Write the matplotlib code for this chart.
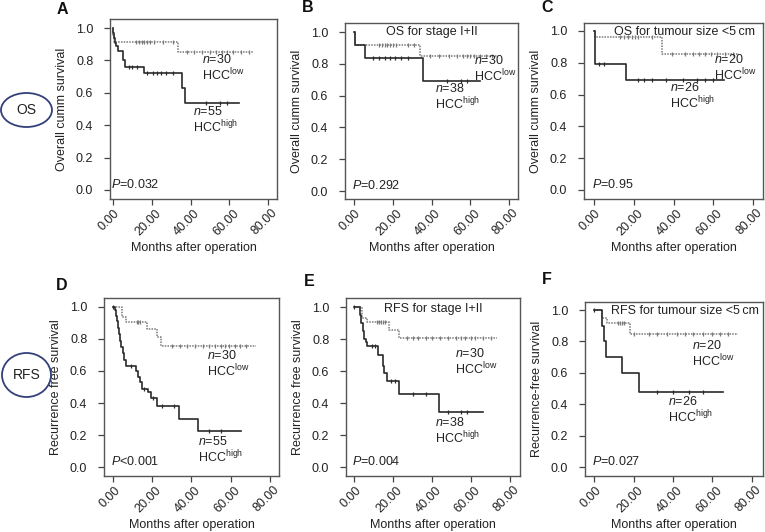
import matplotlib
matplotlib.use("Agg")
import matplotlib.pyplot as plt
import matplotlib.transforms as mtransforms
import numpy as np
from matplotlib.patches import Ellipse

plt.rcParams["font.family"] = ["Liberation Sans", "DejaVu Sans"]
plt.rcParams["mathtext.fontset"] = "custom"
plt.rcParams["mathtext.rm"] = "Liberation Sans"
plt.rcParams["mathtext.it"] = "Liberation Sans:italic"

# ---- data (months, survival fraction) ----
a_low_t = [0, 0.3, 0.7, 33.5, 72.7]
a_low_s = [1.0, 0.96, 0.915, 0.854, 0.854]
a_low_cens = [12, 13.5, 15, 16, 17.5, 19, 21, 26, 31, 38, 42, 46, 50, 53, 56, 59, 62, 66, 70]
a_high_t = [0, 0.2, 0.5, 0.9, 1.8, 2.8, 5.3, 6.0, 16.0, 35.6, 37.3, 65]
a_high_s = [1.0, 0.97, 0.94, 0.91, 0.89, 0.86, 0.80, 0.76, 0.72, 0.63, 0.54, 0.54]
a_high_cens = [8.5, 10, 12.5, 17.5, 20.5, 22.5, 25, 27.5, 31, 48, 55, 58.5]

b_low_t = [0, 0.3, 0.8, 33.8, 73.5]
b_low_s = [1.0, 0.96, 0.917, 0.849, 0.849]
b_low_cens = [13, 14.5, 16, 17, 18.5, 20, 21.5, 28, 31, 39, 44, 49, 53, 56, 58, 60, 62, 65, 68, 71]
b_high_t = [0, 0.3, 0.8, 5.5, 35.5, 65]
b_high_s = [1.0, 0.96, 0.917, 0.835, 0.694, 0.694]
b_high_cens = [10, 13, 16, 18.5, 21, 24, 28, 48, 55, 58]

c_low_t = [0, 0.4, 34, 73]
c_low_s = [1.0, 0.96, 0.855, 0.855]
c_low_cens = [13, 15, 17, 19, 20.5, 22, 29, 39, 46, 50, 53, 56, 59, 62, 66, 70]
c_high_t = [0, 0.3, 0.7, 16, 65.5]
c_high_s = [1.0, 0.88, 0.79, 0.69, 0.69]
c_high_cens = [2.5, 5, 22, 25, 29, 36, 45, 52, 56, 60]

d_low_t = [0, 4.4, 6.6, 17.5, 22.6, 24.6, 72.8]
d_low_s = [1.0, 0.94, 0.905, 0.865, 0.81, 0.756, 0.756]
d_low_cens = [12, 13, 14, 30, 34, 38, 42, 46, 49, 52, 55, 57, 59, 62, 65, 68]
d_high_t = [0, 0.8, 1.4, 2.0, 2.6, 3.2, 3.8, 4.3, 4.9, 5.5, 6.4, 11.8, 12.8,
            14.0, 15.0, 17.6, 19.5, 22.5, 33.5, 43.3, 65.5]
d_high_s = [1.0, 0.98, 0.945, 0.91, 0.87, 0.83, 0.79, 0.75, 0.71, 0.67, 0.63, 0.60, 0.565,
            0.53, 0.49, 0.47, 0.43, 0.38, 0.30, 0.225, 0.225]
d_high_cens = [0, 9, 16, 20.5, 25, 31, 49, 55]

e_low_t = [0, 4.0, 6.5, 18, 23.2, 73.4]
e_low_s = [1.0, 0.935, 0.904, 0.86, 0.805, 0.805]
e_low_cens = [12, 13, 14, 15, 16, 27, 30, 33, 37, 40, 44, 48, 52, 55, 57, 60, 62, 66, 70]
e_high_t = [0, 3.0, 3.6, 4.4, 5.2, 6.0, 6.9, 12.5, 14.6, 15.4, 16.8, 23.1, 43.6, 66.3]
e_high_s = [1.0, 0.95, 0.90, 0.85, 0.80, 0.78, 0.755, 0.70, 0.63, 0.59, 0.535, 0.455, 0.346, 0.346]
e_high_cens = [0, 9, 11, 19, 21, 30, 37, 48, 55, 58]

f_low_t = [0, 3.9, 6.4, 18.2, 72.7]
f_low_s = [1.0, 0.95, 0.915, 0.85, 0.85]
f_low_cens = [12, 13, 14, 15, 20, 28, 32, 37, 42, 46, 50, 55, 60, 64, 68]
f_high_t = [0, 3.8, 4.8, 6.0, 14.3, 23.0, 65.5]
f_high_s = [1.0, 0.90, 0.80, 0.70, 0.60, 0.48, 0.48]
f_high_cens = [0, 32, 40, 48, 55]

letters = ["A", "B", "C", "D", "E", "F"]
titles = ["", "OS for stage I+II", "OS for tumour size <5\u2009cm",
          "", "RFS for stage I+II", "RFS for tumour size <5\u2009cm"]
ylabels = ["Overall cumm survival"] * 3 + ["Recurrence free survival"] * 2 + ["Recurrence-free survival"]
pvals = [r"$P$=0.032", r"$P$=0.292", r"$P$=0.95", r"$P$<0.001", r"$P$=0.004", r"$P$=0.027"]
n_low = [30, 30, 20, 30, 30, 20]
n_high = [55, 38, 26, 55, 38, 26]
# group label anchor (left, vertical centre) in (months, survival)
low_lab = [(46, 0.755), (62, 0.765), (60.5, 0.765), (48, 0.645), (51.8, 0.655), (49.5, 0.722)]
high_lab = [(41, 0.43), (42, 0.59), (38, 0.59), (43.6, 0.105), (41.5, 0.222), (37.6, 0.362)]

x_ticks = [0, 20, 40, 60, 80]
x_ticklabels = ["0.00", "20.00", "40.00", "60.00", "80.00"]
y_ticks = [0.0, 0.2, 0.4, 0.6, 0.8, 1.0]

curves = [
    (a_low_t, a_low_s, a_low_cens, a_high_t, a_high_s, a_high_cens),
    (b_low_t, b_low_s, b_low_cens, b_high_t, b_high_s, b_high_cens),
    (c_low_t, c_low_s, c_low_cens, c_high_t, c_high_s, c_high_cens),
    (d_low_t, d_low_s, d_low_cens, d_high_t, d_high_s, d_high_cens),
    (e_low_t, e_low_s, e_low_cens, e_high_t, e_high_s, e_high_cens),
    (f_low_t, f_low_s, f_low_cens, f_high_t, f_high_s, f_high_cens),
]

# axes boxes in pixels: left, top, right, bottom
W, H = 765, 532
boxes = [(110, 19, 277, 199), (345, 23, 518, 199), (584, 23, 763, 199),
         (104, 298, 279, 476), (346, 298, 520, 476), (585, 302, 763, 476)]
xlims = [(-1.5, 84.5), (-4.6, 84.5), (-5, 85), (-4.6, 84.7), (-4.1, 85), (-4.6, 85.6)]
ylims = [(-0.056, 1.056), (-0.05, 1.057), (-0.057, 1.05),
         (-0.056, 1.056), (-0.056, 1.057), (-0.057, 1.051)]
letter_pos = [(62, 9), (308, 8), (547, 8), (62, 285), (309, 282), (547, 280)]


def step_val(t, s, x):
    idx = np.searchsorted(np.asarray(t), x, side="right") - 1
    return np.asarray(s)[np.clip(idx, 0, len(s) - 1)]


fig = plt.figure(figsize=(W / 100, H / 100), dpi=100)
dark = "#2a2a2a"
grey = "#7a7a7a"
fs = 9
# rotated x tick labels: a little left of the tick and below it (pixels)
lab_off = mtransforms.ScaledTranslation(-3.5 / 100, -8 / 100, fig.dpi_scale_trans)

for i in range(6):
    l, t, r, b = boxes[i]
    ax = fig.add_axes([l / W, 1 - b / H, (r - l) / W, (b - t) / H])
    lt, ls, lc, ht, hs, hc = curves[i]

    ax.step(lt, ls, where="post", color=grey, lw=1.1, ls=(0, (1, 0.8)))
    ax.plot(lc, step_val(lt, ls, lc), ls="none", marker="|", ms=3.5, mew=0.9, color=grey)
    ax.step(ht, hs, where="post", color=dark, lw=1.2)
    ax.plot(hc, step_val(ht, hs, hc), ls="none", marker="|", ms=3.5, mew=0.9, color=dark)

    ax.set_xlim(*xlims[i])
    ax.set_ylim(*ylims[i])
    ax.set_xticks(x_ticks)
    ax.set_xticklabels([])
    for tx, tl in zip(x_ticks, x_ticklabels):
        ax.text(tx, 0, tl, transform=ax.get_xaxis_transform() + lab_off, rotation=45,
                ha="center", va="top", fontsize=fs, color="#222", clip_on=False)
    ax.set_yticks(y_ticks)
    ax.set_yticklabels([f"{v:.1f}" for v in y_ticks])
    ax.tick_params(labelsize=fs, length=4, width=0.9, color="#444", labelcolor="#222")
    ax.tick_params(axis="y", pad=8)
    for sp in ax.spines.values():
        sp.set_color("#555")
        sp.set_linewidth(1.0)
    ax.set_xlabel("Months after operation", fontsize=fs, color="#222")
    ax.xaxis.set_label_coords(0.5, -43.0 / (b - t))
    ax.set_ylabel(ylabels[i], fontsize=fs, color="#222", labelpad=6)

    if titles[i]:
        ax.text(0.5 if i % 3 == 1 else 0.56, 0.985 if i != 4 else 0.97, titles[i],
                transform=ax.transAxes, ha="center", va="top", fontsize=fs, color="#222")

    ax.text(-1.0, 0.035, pvals[i], ha="left", va="center", fontsize=fs, color="#222")

    x, y = low_lab[i]
    ax.text(x, y, f"$n$={n_low[i]}\n" + r"HCC$^{\rm low}$", ha="left", va="center",
            fontsize=fs, color="#222", linespacing=1.05, clip_on=False)
    x, y = high_lab[i]
    ax.text(x, y, f"$n$={n_high[i]}\n" + r"HCC$^{\rm high}$", ha="left", va="center",
            fontsize=fs, color="#222", linespacing=1.05)

    px, py = letter_pos[i]
    fig.text(px / W, 1 - py / H, letters[i], ha="center", va="center",
             fontsize=11.5, fontweight="bold", color="#111")

# row labels in ellipses
for label, (cx, cy, ew, eh) in [("OS", (26.5, 110, 51, 34)), ("RFS", (26.5, 375, 49, 44))]:
    e = Ellipse((cx / W, 1 - cy / H), ew / W, eh / H, transform=fig.transFigure,
                fill=False, edgecolor="#34407a", lw=1.3)
    fig.add_artist(e)
    fig.text(cx / W, 1 - cy / H, label, ha="center", va="center", fontsize=10, color="#222")

fig.savefig("out.png", dpi=100)
